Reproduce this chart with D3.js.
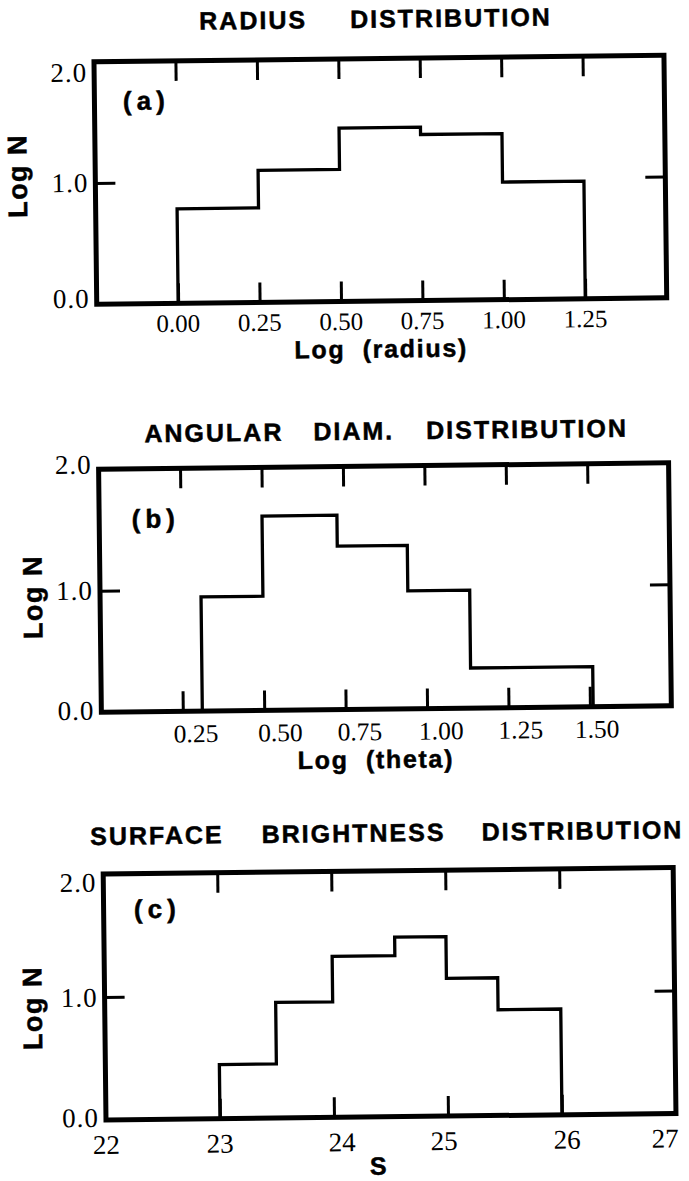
<!DOCTYPE html>
<html>
<head>
<meta charset="utf-8">
<script src="https://cdn.jsdelivr.net/npm/d3@7"></script>
<style>
  html, body { margin: 0; padding: 0; background: #fff; }
  svg { display: block; }
  .sans { font-family: "Liberation Sans", Arial, Helvetica, sans-serif; font-weight: bold; fill: #000; stroke: #000; stroke-width: 0.5px; }
  .serif { font-family: "Liberation Serif", "Times New Roman", Times, serif; fill: #000; }
</style>
</head>
<body>
<svg id="chart" width="689" height="1181"></svg>
<script>
// ---- histogram data (log N per bin) ----
const radiusEdges = [0, 0.25, 0.5, 0.75, 1.0, 1.25];
const radiusLogN  = [0.78, 1.09, 1.43, 1.37, 0.97];

const thetaEdges = [0.31, 0.5, 0.73, 0.945, 1.135, 1.51];
const thetaLogN  = [0.94, 1.60, 1.345, 0.97, 0.33];

const sbEdges = [23, 23.5, 24, 24.55, 25, 25.45, 26];
const sbLogN  = [0.44, 0.94, 1.31, 1.46, 1.12, 0.86];

// ---- tick values and labels ----
const radiusTicks = [0, 0.25, 0.5, 0.75, 1.0, 1.25];
const thetaTicks  = [0.25, 0.5, 0.75, 1.0, 1.25, 1.5];
const sbTickMarks = [23, 24, 25, 26];
const sbTickLabels = [22, 23, 24, 25, 26, 27];
const logNLabels = [0, 1, 2];
const logNMarks = [1];

const radiusTitle = ["RADIUS", "DISTRIBUTION"];
const thetaTitle  = ["ANGULAR", "DIAM.", "DISTRIBUTION"];
const sbTitle     = ["SURFACE", "BRIGHTNESS", "DISTRIBUTION"];

const radiusXLabel = "Log  (radius)";
const thetaXLabel  = "Log  (theta)";
const sbXLabel     = "S";
const yLabel = "Log N";

// ---- layout ----
const W = 689, H = 1181;
const frameLeft = 100, frameRight = 670;

const panels = [
  {
    edges: radiusEdges, logN: radiusLogN, xDomain: [-0.25, 1.5],
    top: 59, bottom: 301.5,
    marks: radiusTicks, labels: radiusTicks, fmt: d3.format(".2f"),
    labelShift: [0, 0, 0, 0, 0, 0], labelSize: 25, labelDrop: 28.5,
    title: radiusTitle, titleGaps: [43], titleX: 382, titleY: 28,
    xLabel: radiusXLabel, xLabelX: 384, xLabelY: 358,
    tag: "(a)", tagX: 128.5, tagY: 107.5,
    yLabelX: 31.4, yLabelY: 172.3, yTickShift: [-5.5, 0, 11]
  },
  {
    edges: thetaEdges, logN: thetaLogN, xDomain: [0, 1.75],
    top: 466.5, bottom: 709.5,
    marks: thetaTicks, labels: thetaTicks, fmt: d3.format(".2f"),
    labelShift: [13, 16, 14, 14, 12, 7], labelSize: 25.5, labelDrop: 31,
    title: thetaTitle, titleGaps: [30, 32], titleX: 388, titleY: 440,
    xLabel: thetaXLabel, xLabelX: 374, xLabelY: 768.5,
    tag: "(b)", tagX: 132.5, tagY: 525.6,
    yLabelX: 42, yLabelY: 593.5, yTickShift: [-1.5, 0, -4.5]
  },
  {
    edges: sbEdges, logN: sbLogN, xDomain: [22, 27],
    top: 871.3, bottom: 1117.2,
    marks: sbTickMarks, labels: sbTickLabels, fmt: d3.format("d"),
    labelShift: [0, 0, 8, -4, 5, -11], labelSize: 27, labelDrop: 34,
    title: sbTitle, titleGaps: [38, 36], titleX: 384, titleY: 842,
    xLabel: sbXLabel, xLabelX: 372.5, xLabelY: 1175,
    tag: "(c)", tagX: 130.4, tagY: 915.8,
    yLabelX: 37, yLabelY: 1004.5, yTickShift: [-2, 0.7, 8.7]
  }
];

const svg = d3.select("#chart");
svg.append("rect").attr("width", W).attr("height", H).attr("fill", "#fff");

// the printed page sits slightly askew
const page = svg.append("g").attr("transform", "rotate(-0.65 344.5 590.5)");

function styleTicks(sel) {
  sel.select(".domain").remove();
  sel.selectAll(".tick text").remove();
  sel.selectAll(".tick line").attr("stroke", "#000").attr("stroke-width", 3);
}

panels.forEach(p => {
  const g = page.append("g");
  const x = d3.scaleLinear().domain(p.xDomain).range([frameLeft, frameRight]);
  const y = d3.scaleLinear().domain([0, 2]).range([p.bottom, p.top]);

  // stepped histogram outline
  const n = p.logN.length;
  const pts = [[p.edges[0], 0]];
  p.logN.forEach((v, i) => pts.push([p.edges[i], v]));
  pts.push([p.edges[n], 0]);
  const step = d3.line().x(d => x(d[0])).y(d => y(d[1])).curve(d3.curveStepAfter);
  g.append("path")
    .attr("d", step(pts))
    .attr("fill", "none")
    .attr("stroke", "#000")
    .attr("stroke-width", 3.3)
    .attr("stroke-linejoin", "miter");

  // inward tick marks on all four sides
  g.append("g").attr("transform", `translate(0,${p.top})`)
    .call(d3.axisTop(x).tickValues(p.marks).tickSize(-20).tickSizeOuter(0)).call(styleTicks);
  g.append("g").attr("transform", `translate(0,${p.bottom})`)
    .call(d3.axisBottom(x).tickValues(p.marks).tickSize(-20).tickSizeOuter(0)).call(styleTicks);
  g.append("g").attr("transform", `translate(${frameLeft},0)`)
    .call(d3.axisLeft(y).tickValues(logNMarks).tickSize(-20).tickSizeOuter(0)).call(styleTicks);
  g.append("g").attr("transform", `translate(${frameRight},0)`)
    .call(d3.axisRight(y).tickValues(logNMarks).tickSize(-20).tickSizeOuter(0)).call(styleTicks);

  // heavy frame
  g.append("rect")
    .attr("x", frameLeft).attr("y", p.top)
    .attr("width", frameRight - frameLeft).attr("height", p.bottom - p.top)
    .attr("fill", "none").attr("stroke", "#000").attr("stroke-width", 5);

  // x tick labels
  g.selectAll(".xl").data(p.labels).join("text")
    .attr("class", "serif")
    .attr("x", (d, i) => x(d) + p.labelShift[i])
    .attr("y", p.bottom + p.labelDrop)
    .attr("text-anchor", "middle")
    .style("font-size", p.labelSize + "px")
    .text(p.fmt);

  // y tick labels
  g.selectAll(".yl").data(logNLabels).join("text")
    .attr("class", "serif")
    .attr("x", frameLeft - 7)
    .attr("y", (d, i) => y(d) + p.yTickShift[i] + 8.8)
    .attr("text-anchor", "end")
    .style("font-size", "27px")
    .style("letter-spacing", "1px")
    .text(d3.format(".1f"));

  // panel tag
  g.append("text").attr("class", "sans")
    .attr("x", p.tagX).attr("y", p.tagY)
    .style("font-size", "26px").style("letter-spacing", "5px")
    .text(p.tag);

  // x axis title
  g.append("text").attr("class", "sans")
    .attr("x", p.xLabelX).attr("y", p.xLabelY)
    .attr("text-anchor", "middle")
    .attr("xml:space", "preserve")
    .style("white-space", "pre")
    .style("font-size", "25px").style("letter-spacing", "1.7px")
    .text(p.xLabel);

  // y axis title
  g.append("text").attr("class", "sans")
    .attr("transform", `translate(${p.yLabelX},${p.yLabelY}) rotate(-90)`)
    .attr("text-anchor", "middle")
    .style("font-size", "27px").style("letter-spacing", "1.5px")
    .text(yLabel);

  // panel heading, words spread apart
  const words = p.title.map(w => g.append("text").attr("class", "sans")
    .attr("y", p.titleY)
    .style("font-size", "25px").style("letter-spacing", "2px")
    .text(w));
  const widths = words.map(t => t.node().getComputedTextLength());
  const total = d3.sum(widths) + d3.sum(p.titleGaps);
  let cx = p.titleX - total / 2;
  words.forEach((t, i) => {
    t.attr("x", cx);
    cx += widths[i] + (p.titleGaps[i] || 0);
  });
});
</script>
</body>
</html>
